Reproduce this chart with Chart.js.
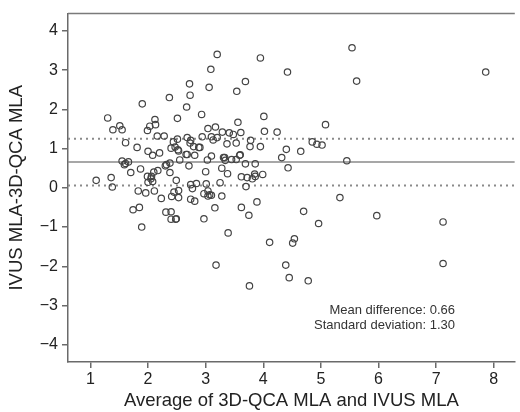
<!DOCTYPE html>
<html>
<head>
<meta charset="utf-8">
<script src="https://cdn.jsdelivr.net/npm/chart.js@4"></script>
<style>
  html, body { margin: 0; padding: 0; background: #fff; }
  #wrap { width: 520px; height: 412px; }
</style>
</head>
<body>
<div id="wrap"><canvas id="chart" width="520" height="412"></canvas></div>
<script>
// average of the two MLA measurements (x)
const avgMla = [
  1.10, 1.30, 1.36, 1.38, 1.39, 1.51, 1.55, 1.55, 1.61, 1.59, 1.61, 1.66, 1.70, 1.74, 1.81,
  1.85, 1.83, 1.87, 1.89, 1.90, 1.96, 1.99, 2.00, 1.99, 2.00, 2.03, 2.05, 2.06, 2.08, 2.08,
  2.11, 2.10, 2.12, 2.13, 2.16, 2.17, 2.20, 2.23, 2.28, 2.30, 2.31, 2.32, 2.37, 2.38, 2.38,
  2.40, 2.40, 2.40, 2.41, 2.44, 2.45, 2.48, 2.49, 2.47, 2.49, 2.51, 2.51, 2.52, 2.53, 2.53,
  2.53, 2.55, 2.67, 2.68, 2.66, 2.68, 2.71, 2.72, 2.73, 2.73, 2.74, 2.74, 2.74, 2.77, 2.81,
  2.81, 2.79, 2.84, 2.88, 2.90, 2.93, 2.94, 2.97, 2.97, 3.00, 3.01, 3.03, 3.04, 3.04, 3.04,
  3.07, 3.10, 3.06, 3.09, 3.10, 3.10, 3.13, 3.16, 3.17, 3.18, 3.20, 3.20, 3.25, 3.28, 3.28,
  3.29, 3.31, 3.33, 3.34, 3.37, 3.38, 3.39, 3.41, 3.45, 3.48, 3.53, 3.53, 3.54, 3.56, 3.59,
  3.60, 3.61, 3.62, 3.62, 3.69, 3.69, 3.70, 3.72, 3.75, 3.76, 3.77, 3.78, 3.81, 3.85, 3.86,
  3.86, 3.89, 3.95, 3.95, 3.99, 4.01, 4.02, 4.11, 4.24, 4.32, 4.39, 4.40, 4.42, 4.43, 4.45,
  4.51, 4.54, 4.65, 4.70, 4.78, 4.85, 4.93, 4.96, 5.02, 5.08, 5.33, 5.45, 5.54, 5.62, 5.97,
  7.12, 7.12, 7.86
];
// IVUS MLA minus 3D-QCA MLA (y)
const diffMla = [
  0.19, 1.78, 0.26, 0.02, 1.48, 1.58, 1.48, 0.68, 1.15, 0.59, 0.62, 0.66, 0.39, -0.56, 1.03,
  -0.50, -0.08, 0.48, -1.00, 2.14, -0.13, 1.46, 0.93, 0.29, 0.14, 1.57, 0.23, 0.29, 0.16, 0.83,
  -0.08, 0.40, 1.74, 1.61, 1.32, 0.44, 0.89, -0.27, 1.32, 0.56, -0.62, 0.59, 2.30, 0.39, 0.63,
  1.01, -0.61, -0.80, -0.22, 1.17, -0.11, -0.80, -0.79, 1.04, 0.19, 1.77, 1.24, 0.97, 0.94, -0.07,
  -0.25, 0.71, 2.06, 1.28, 0.85, 0.85, 0.56, 2.65, 2.36, 1.14, 1.21, 0.08, -0.29, -0.02, -0.34,
  0.83, 1.05, 0.11, 1.03, 1.03, 1.87, 1.30, -0.15, -0.79, 0.41, 0.10, 0.71, 1.51, -0.08, -0.21,
  -0.18, -0.19, 2.56, 3.02, 1.30, 0.81, 1.22, -0.51, 1.55, -1.97, 3.40, 1.28, 0.13, 0.50, -0.21,
  1.42, 0.77, 0.77, 0.70, 1.12, 0.36, -1.15, 1.40, 0.72, 1.36, 1.14, 0.72, 2.46, 1.67, 0.83,
  0.84, 1.41, 0.28, -0.50, 2.71, 0.61, 0.03, 0.26, -0.70, -2.50, 1.05, 1.21, 0.23, 0.35, 0.61,
  0.29, -0.36, 3.31, 1.05, 0.34, 1.82, 1.44, -1.39, 1.42, 0.77, -1.97, 0.98, 2.95, 0.51, -2.29,
  -1.41, -1.30, 0.93, -0.60, -2.37, 1.17, 1.11, -0.91, 1.09, 1.61, -0.25, 0.69, 3.57, 2.72, -0.71,
  -0.87, -1.93, 2.95
];
const meanDiff = 0.66;
const upperLimit = 1.25;
const lowerLimit = 0.06;
const xTicks = [1, 2, 3, 4, 5, 6, 7, 8];
const yTicks = [-4, -3, -2, -1, 0, 1, 2, 3, 4];
const noteLines = ["Mean difference: 0.66", "Standard deviation: 1.30"];

const xMin = 0.611, xMax = 8.365;
const yMin = -4.44, yMax = 4.44;
const FONT = "'Liberation Sans', Arial, Helvetica, sans-serif";
const axisGray = "#6a6a6a";

const points = avgMla.map((x, i) => ({ x: x, y: diffMla[i] }));
function flatLine(v) {
  return [{ x: xMin, y: v }, { x: xMax, y: v }];
}

// top frame line + the text note in the plot
const framePlugin = {
  id: "frame",
  afterDraw(chart) {
    const ctx = chart.ctx;
    const a = chart.chartArea;
    ctx.save();
    ctx.strokeStyle = "#7a7a7a";
    ctx.lineWidth = 1.5;
    ctx.beginPath();
    ctx.moveTo(a.left, a.top);
    ctx.lineTo(a.right, a.top);
    ctx.stroke();
    ctx.fillStyle = "#333";
    ctx.font = "13px " + FONT;
    ctx.textAlign = "right";
    ctx.textBaseline = "middle";
    ctx.fillText(noteLines[0], 455, 310);
    ctx.fillText(noteLines[1], 455, 325);
    ctx.restore();
  }
};

new Chart(document.getElementById("chart"), {
  type: "scatter",
  data: {
    datasets: [
      {
        label: "Difference",
        data: points,
        pointStyle: "circle",
        pointRadius: 3.2,
        pointBorderWidth: 1.2,
        pointBorderColor: "#444",
        pointBackgroundColor: "rgba(0,0,0,0)",
        order: 1,
      },
      {
        type: "line",
        label: "Mean",
        data: flatLine(meanDiff),
        borderColor: "#8a8a8a",
        borderWidth: 1.5,
        pointRadius: 0,
        order: 2,
      },
      {
        type: "line",
        label: "Upper",
        data: flatLine(upperLimit),
        borderColor: "#8a8a8a",
        borderWidth: 2,
        borderDash: [2, 4],
        pointRadius: 0,
        order: 2,
      },
      {
        type: "line",
        label: "Lower",
        data: flatLine(lowerLimit),
        borderColor: "#8a8a8a",
        borderWidth: 2,
        borderDash: [2, 4],
        pointRadius: 0,
        order: 2,
      },
    ],
  },
  options: {
    responsive: false,
    animation: false,
    layout: { padding: { top: 10, right: 0, left: 0, bottom: 0 } },
    plugins: {
      legend: { display: false },
      tooltip: { enabled: false },
    },
    scales: {
      x: {
        type: "linear",
        min: xMin,
        max: xMax,
        afterBuildTicks: (s) => { s.ticks = xTicks.map((v) => ({ value: v })); },
        afterFit: (s) => { s.height = 50; },
        grid: { drawOnChartArea: false, drawTicks: true, tickLength: 6, color: axisGray, lineWidth: 1.5 },
        border: { display: true, color: axisGray, width: 1.5 },
        ticks: { color: "#222", font: { family: FONT, size: 16 }, padding: 2, maxRotation: 0 },
        title: {
          display: true,
          text: "Average of 3D-QCA MLA and IVUS MLA",
          color: "#222",
          font: { family: FONT, size: 18.5 },
          padding: { top: 0, bottom: 0 },
        },
      },
      y: {
        type: "linear",
        min: yMin,
        max: yMax,
        afterBuildTicks: (s) => { s.ticks = yTicks.map((v) => ({ value: v })); },
        afterFit: (s) => { s.width = 68; },
        grid: { drawOnChartArea: false, drawTicks: true, tickLength: 6, color: axisGray, lineWidth: 1.5 },
        border: { display: true, color: axisGray, width: 1.5 },
        ticks: {
          color: "#222",
          font: { family: FONT, size: 16 },
          padding: 4,
          callback: (v) => (v < 0 ? "\u2212" + Math.abs(v) : String(v)),
        },
        title: {
          display: true,
          text: "IVUS MLA-3D-QCA MLA",
          color: "#222",
          font: { family: FONT, size: 18.5 },
          padding: { top: 6, bottom: 0 },
        },
      },
    },
  },
  plugins: [framePlugin],
});
</script>
</body>
</html>
